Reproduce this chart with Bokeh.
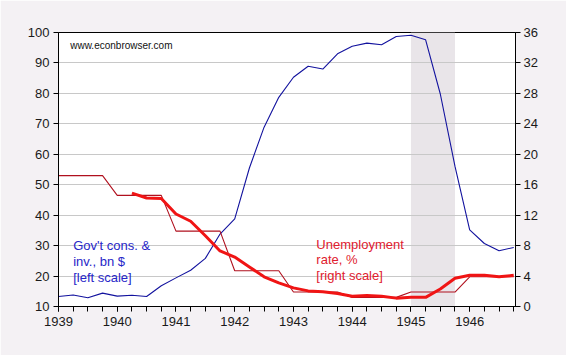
from bokeh.plotting import figure
from bokeh.models import (Range1d, LinearAxis, FixedTicker, BoxAnnotation, Label)
from bokeh.embed import file_html
from bokeh.resources import INLINE

# ---------------- data ----------------
years = [1939, 1940, 1941, 1942, 1943, 1944, 1945, 1946]
quarters = [1, 2, 3, 4]

# Government consumption & investment, bn $ (left scale), quarterly 1939Q1-1946Q4
gov = [13.3, 13.8, 12.9, 14.4,
       13.4, 13.7, 13.3, 16.8,
       19.4, 21.9, 25.8, 33.8,
       38.8, 55.5, 68.9, 78.7,
       85.3, 88.9, 88.0, 93.0,
       95.5, 96.5, 96.0, 98.7,
       99.1, 97.6, 79.8, 56.0,
       35.2, 30.7, 28.3, 29.4]

# Annual unemployment rate, % (right scale), shown at each quarter of its year
unemp_annual_q = [17.2, 17.2, 17.2, 17.2,
                  14.6, 14.6, 14.6, 14.6,
                  9.9, 9.9, 9.9, 9.9,
                  4.7, 4.7, 4.7, 4.7,
                  1.9, 1.9, 1.9, 1.9,
                  1.2, 1.2, 1.2, 1.2,
                  1.9, 1.9, 1.9, 1.9,
                  3.9, 3.9, 3.9, 3.9]

# Quarterly unemployment rate, % (right scale), from 1940Q2
unemp_q = [None, None, None, None,
           None, 14.9, 14.25, 14.2,
           12.15, 11.2, 9.3, 7.3,
           6.5, 5.2, 3.9, 3.1,
           2.45, 2.05, 1.95, 1.7,
           1.35, 1.45, 1.35, 1.1,
           1.2, 1.2, 2.3, 3.7,
           4.1, 4.1, 3.9, 4.1]

recession_start = 1945.0
recession_end = 1945.75

left_ticks = [10, 20, 30, 40, 50, 60, 70, 80, 90, 100]
right_ticks = [0, 4, 8, 12, 16, 20, 24, 28, 32, 36]
year_labels = ["1939", "1940", "1941", "1942", "1943", "1944", "1945", "1946"]

# quarter positions
xq = [y + (q - 1) / 4 for y in years for q in quarters]

# ---------------- figure ----------------
BG = "#F4F1F4"
FONT = "Liberation Sans"

p = figure(width=566, height=355, output_backend="svg", toolbar_location=None,
           x_range=Range1d(1939, 1946.78), y_range=Range1d(10, 100),
           min_border_left=58, min_border_right=51, min_border_top=32,
           min_border_bottom=49)
p.extra_y_ranges = {"right": Range1d(0, 36)}

p.background_fill_color = "white"
p.border_fill_color = BG
p.outline_line_color = "black"
p.outline_line_width = 1

# recession shading
p.add_layout(BoxAnnotation(left=recession_start, right=recession_end,
                           fill_color="#E9E5E9", fill_alpha=1.0,
                           line_color=None, level="image"))

# grid
p.xgrid.visible = False
p.ygrid.grid_line_color = "#C8C8C8"
p.ygrid.grid_line_width = 1

# axes
def style_axis(ax):
    ax.axis_line_color = "black"
    ax.major_tick_line_color = "black"
    ax.minor_tick_line_color = "black"
    ax.major_tick_in = 0
    ax.major_tick_out = 5
    ax.minor_tick_in = 0
    ax.minor_tick_out = 5
    ax.major_label_text_font = FONT
    ax.major_label_text_font_size = "13px"
    ax.major_label_text_color = "#1A1A1A"

p.yaxis.ticker = FixedTicker(ticks=left_ticks)
style_axis(p.yaxis[0])
p.yaxis.major_label_standoff = 4

p.xaxis.ticker = FixedTicker(ticks=years, minor_ticks=xq)
p.xaxis.major_label_overrides = {y: lab for y, lab in zip(years, year_labels)}
style_axis(p.xaxis[0])
p.xaxis.major_label_standoff = 5

raxis = LinearAxis(y_range_name="right", ticker=FixedTicker(ticks=right_ticks))
style_axis(raxis)
raxis.major_label_standoff = 3
p.add_layout(raxis, "right")

# lines
p.line(xq, gov, line_color="#12129E", line_width=1.1)
p.line(xq, unemp_annual_q, y_range_name="right", line_color="#B0101E", line_width=1.1)
p.line(xq, [float("nan") if v is None else v for v in unemp_q], y_range_name="right",
       line_color="#F01414", line_width=3, line_join="round")

# annotations
p.add_layout(Label(x=1939.2, y=95.7, text="www.econbrowser.com", text_font=FONT,
                   text_font_size="10px", text_color="#111111",
                   text_baseline="alphabetic"))

blue_lines = ["Gov't cons. &", "inv., bn $", "[left scale]"]
for t, yy in zip(blue_lines, [29.9, 24.7, 19.6]):
    p.add_layout(Label(x=1939.25, y=yy, text=t, text_font=FONT,
                       text_font_size="13px", text_color="#2626C8",
                       text_baseline="alphabetic"))

red_lines = ["Unemployment", "rate, %", "[right scale]"]
for t, yy in zip(red_lines, [30.4, 25.3, 20.2]):
    p.add_layout(Label(x=1943.39, y=yy, text=t, text_font=FONT,
                       text_font_size="13px", text_color="#E0202E",
                       text_baseline="alphabetic"))

open("out.html", "w").write(file_html(p, INLINE))
